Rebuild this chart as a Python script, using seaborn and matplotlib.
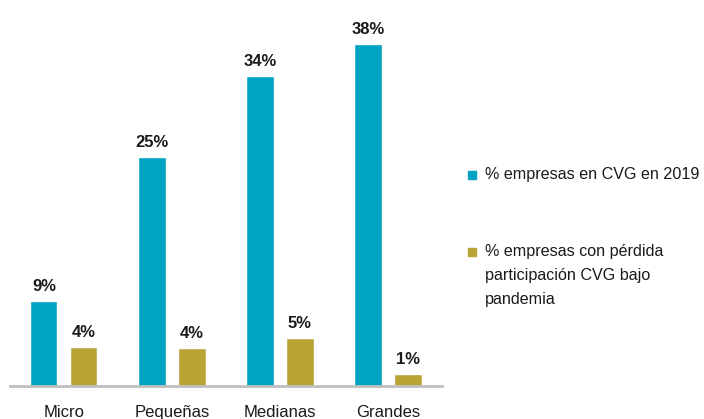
import pandas as pd
import seaborn as sns
import matplotlib
matplotlib.use("Agg")
from matplotlib import pyplot as plt
from matplotlib.patches import Rectangle

# datos
categorias = ["Micro", "Pequeñas", "Medianas", "Grandes"]
serie_cvg = [9.4, 25.4, 34.4, 38.0]
serie_perdida = [4.3, 4.2, 5.3, 1.3]
nombres = ["% empresas en CVG en 2019",
           "% empresas con pérdida\nparticipación CVG bajo\npandemia"]
colores = ["#00A3C1", "#B7A435"]

df = pd.DataFrame({
    "categoria": categorias * 2,
    "valor": serie_cvg + serie_perdida,
    "serie": [nombres[0]] * 4 + [nombres[1]] * 4,
})

sns.set_style("white")
plt.rcParams["font.family"] = ["Liberation Sans", "DejaVu Sans"]

W, H = 704, 419
fig = plt.figure(figsize=(W / 100, H / 100), dpi=100)
ax = fig.add_axes([0.014, 0.079, 0.614, 0.859])

sns.barplot(data=df, x="categoria", y="valor", hue="serie",
            palette=colores, width=0.74, gap=0.32, ax=ax,
            saturation=1, legend=False)

for cont in ax.containers:
    ax.bar_label(cont, fmt="%.0f%%", padding=5, fontsize=12,
                 fontweight="bold", color="#1a1a1a")

ax.set_ylim(0, 40)
ax.set_xlim(-0.5, 3.5)
ax.set_xlabel("")
ax.set_ylabel("")
ax.set_yticks([])
ax.tick_params(axis="x", length=0, pad=14, labelsize=12, labelcolor="#1a1a1a")
for s in ["top", "right", "left"]:
    ax.spines[s].set_visible(False)
ax.spines["bottom"].set_color("#BFBFBF")
ax.spines["bottom"].set_linewidth(2)

# leyenda a mano: cuadrado alineado con la primera línea
for nombre, color, ytop in zip(nombres, colores, [171, 248]):
    fig.patches.append(Rectangle((468 / W, 1 - (ytop + 8) / H), 8 / W, 8 / H,
                                 transform=fig.transFigure, color=color))
    fig.text(485 / W, 1 - (ytop - 4) / H, nombre, fontsize=11.6, va="top",
             ha="left", linespacing=1.75, color="#1a1a1a")

fig.savefig("out.png", dpi=100)
